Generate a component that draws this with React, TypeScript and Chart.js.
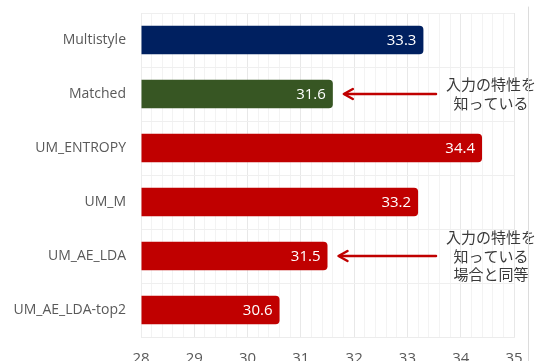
import React, { useEffect, useRef } from "react";
import { Chart, registerables } from "chart.js";

Chart.register(...registerables);

const categories = ["Multistyle", "Matched", "UM_ENTROPY", "UM_M", "UM_AE_LDA", "UM_AE_LDA-top2"];
const values = [33.3, 31.6, 34.4, 33.2, 31.5, 30.6];
const barColors = ["#002060", "#375623", "#C00000", "#C00000", "#C00000", "#C00000"];
const axisMin = 28;
const axisMax = 35;
const annotationIndices = [1, 4];
const annotationLines = [
  ["入力の特性を", "知っている"],
  ["入力の特性を", "知っている", "場合と同等"],
];

const FONT = "'Open Sans', 'Noto Sans', sans-serif";
const JP_FONT = "'Noto Sans CJK JP', 'Noto Sans', sans-serif";

const overlayPlugin = {
  id: "overlay",
  afterDatasetsDraw(chart: any) {
    const { ctx, chartArea } = chart;
    const meta = chart.getDatasetMeta(0);
    const xScale = chart.scales.x;
    ctx.save();
    // value labels inside bars
    ctx.font = `15px ${FONT}`;
    ctx.fillStyle = "#ffffff";
    ctx.textAlign = "right";
    ctx.textBaseline = "middle";
    meta.data.forEach((bar: any, i: number) => {
      ctx.fillText(values[i].toFixed(1), bar.x - 7, bar.y + 1);
    });
    // annotations
    annotationIndices.forEach((idx, k) => {
      const bar = meta.data[idx];
      const y = bar.y;
      const tipX = xScale.getPixelForValue(values[idx]) + 11;
      const tailX = chartArea.right - 78;
      ctx.strokeStyle = "#C00000";
      ctx.lineWidth = 2.5;
      ctx.lineCap = "round";
      ctx.lineJoin = "round";
      ctx.beginPath();
      ctx.moveTo(tailX, y);
      ctx.lineTo(tipX + 1, y);
      ctx.stroke();
      ctx.beginPath();
      ctx.moveTo(tipX + 9, y - 5);
      ctx.lineTo(tipX, y);
      ctx.lineTo(tipX + 9, y + 5);
      ctx.stroke();
      const lines = annotationLines[k];
      ctx.font = `15px ${JP_FONT}`;
      ctx.fillStyle = "#3a3a3a";
      ctx.textAlign = "center";
      ctx.textBaseline = "middle";
      const lh = 18.5;
      const startY = y - ((lines.length - 1) * lh) / 2;
      lines.forEach((t, j) => {
        ctx.fillText(t, chartArea.right - 23, startY + j * lh);
      });
    });
    // decorative right frame line
    ctx.strokeStyle = "#dcdcdc";
    ctx.lineWidth = 1;
    ctx.beginPath();
    ctx.moveTo(chart.width - 10.5, 7);
    ctx.lineTo(chart.width - 10.5, chart.height);
    ctx.stroke();
    ctx.restore();
  },
};

export default function App() {
  const canvasRef = useRef<HTMLCanvasElement | null>(null);

  useEffect(() => {
    document.body.style.margin = "0";
    const canvas = canvasRef.current;
    if (!canvas) return;
    const chart = new Chart(canvas, {
      type: "bar",
      data: {
        labels: categories,
        datasets: [
          {
            data: values,
            backgroundColor: barColors,
            borderWidth: 0,
            borderRadius: 4,
            borderSkipped: "start",
            barPercentage: 0.53,
            categoryPercentage: 1,
            base: axisMin,
          },
        ],
      },
      options: {
        indexAxis: "y",
        responsive: false,
        animation: false,
        devicePixelRatio: 1,
        layout: { padding: { top: 13, right: 25, left: 0, bottom: 0 } },
        plugins: { legend: { display: false }, tooltip: { enabled: false } },
        scales: {
          x: {
            min: axisMin,
            max: axisMax,
            afterFit(scale: any) {
              scale.height = 24;
              scale.paddingLeft = 0;
              scale.paddingRight = 0;
            },
            ticks: {
              stepSize: 0.2,
              autoSkip: false,
              maxRotation: 0,
              padding: 13,
              color: "#595959",
              font: { size: 15, family: FONT },
              callback(v: any) {
                const n = Number(v);
                return Math.abs(n - Math.round(n)) < 1e-6 ? String(Math.round(n)) : "";
              },
            },
            grid: {
              drawTicks: false,
              color(ctx: any) {
                const n = ctx.tick ? ctx.tick.value : 0;
                return Math.abs(n - Math.round(n)) < 1e-6 ? "#e8e8e8" : "#f3f3f3";
              },
            },
            border: { color: "#ececec" },
          },
          y: {
            afterFit(scale: any) {
              scale.width = 141;
              scale.paddingTop = 0;
              scale.paddingBottom = 0;
            },
            ticks: {
              padding: 15,
              color: "#595959",
              font: { size: 14, family: FONT },
            },
            grid: { drawTicks: false, color: "#efefef", offset: true },
            border: { color: "#ececec" },
          },
        },
      },
      plugins: [overlayPlugin],
    });
    return () => chart.destroy();
  }, []);

  return (
    <div style={{ width: 539, height: 361 }}>
      <canvas ref={canvasRef} width={539} height={361} style={{ display: "block" }} />
    </div>
  );
}
